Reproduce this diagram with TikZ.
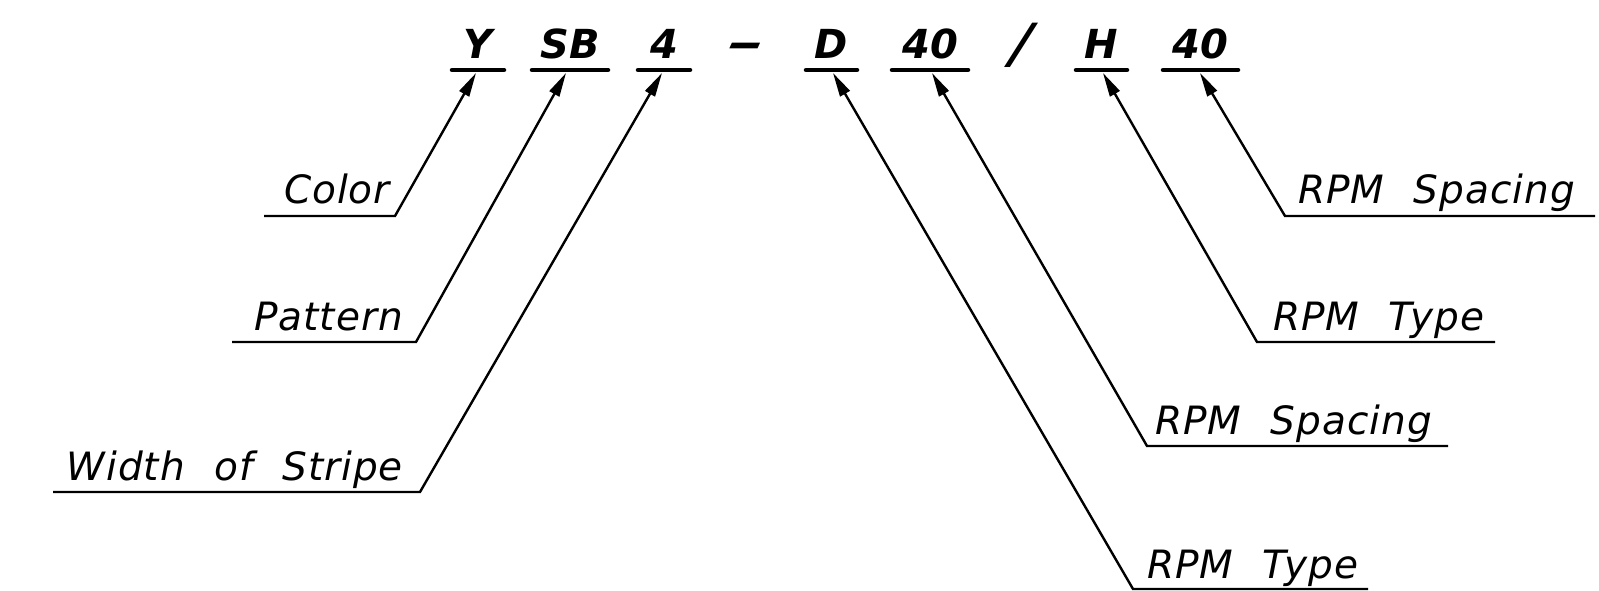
\documentclass[tikz,border=0pt]{standalone}
\usepackage{fontspec}
\setmainfont{DejaVu Sans}
\newfontfamily\labfont[WordSpace=2.2,LetterSpace=2.5]{DejaVu Sans Oblique}
\newfontfamily\codefont{DejaVu Sans Bold Oblique}
\newfontfamily\slfont{DejaVu Sans Oblique}
\usetikzlibrary{arrows.meta}
\begin{document}
\begin{tikzpicture}[x=1pt,y=-1pt,
  codetxt/.style={inner sep=0pt,anchor=base,font=\codefont\fontsize{40}{40}\selectfont},
  labtxt/.style={inner sep=0pt,font=\labfont\fontsize{39}{39}\selectfont},
  bar/.style={line width=4.5pt,line cap=round},
  leader/.style={line width=2.4pt,-{Triangle[length=24pt,width=11pt]}}]
\useasboundingbox (0,0) rectangle (1599,591);
% code
\node[codetxt] (cY) at (478,59) {Y};
\node[codetxt] (cSB) at (570,59) {SB};
\node[codetxt] (c4) at (664,59) {4};
\node[codetxt] (cdash) at (747,58) {\scalebox{2.3}[1]{-}};
\node[codetxt] (cD) at (831,59) {D};
\node[codetxt] (c40a) at (930,59) {40};
\node[codetxt,font=\slfont\fontsize{40}{40}\selectfont] (cslash) at (1021,63) {\scalebox{1.7}[1.35]{/}};
\node[codetxt] (cH) at (1101,59) {H};
\node[codetxt] (c40b) at (1200,59) {40};
% bars
\draw[bar] (452,70) -- (504,70);
\draw[bar] (532,70) -- (608,70);
\draw[bar] (638,70) -- (690,70);
\draw[bar] (806,70) -- (857,70);
\draw[bar] (892,70) -- (968,70);
\draw[bar] (1076,70) -- (1127,70);
\draw[bar] (1163,70) -- (1238,70);
% tips
\coordinate (tY) at (476,73);
\coordinate (tSB) at (566,73);
\coordinate (t4) at (662,73);
\coordinate (tD) at (833,73);
\coordinate (t40a) at (932,73);
\coordinate (tH) at (1103,73);
\coordinate (t40b) at (1200,73);
% left labels
\coordinate (kC) at (395,216); \coordinate (sC) at (264,216);
\coordinate (kP) at (416,342); \coordinate (sP) at (232,342);
\coordinate (kW) at (420,492); \coordinate (sW) at (53,492);
\node[labtxt,anchor=base east] (lC) at (390,204) {Color};
\node[labtxt,anchor=base east] (lP) at (403,330) {Pattern};
\node[labtxt,anchor=base east] (lW) at (403,480) {Width of Stripe};
\draw[leader] (sC) -- (kC) -- (tY);
\draw[leader] (sP) -- (kP) -- (tSB);
\draw[leader] (sW) -- (kW) -- (t4);
% right labels
\coordinate (kT1) at (1133,589); \coordinate (eT1) at (1368,589);
\coordinate (kS1) at (1147,446); \coordinate (eS1) at (1448,446);
\coordinate (kT2) at (1257,342); \coordinate (eT2) at (1495,342);
\coordinate (kS2) at (1285,216); \coordinate (eS2) at (1595,216);
\node[labtxt,anchor=base west] (lT1) at (1147,578) {RPM Type};
\node[labtxt,anchor=base west] (lS1) at (1155,434) {RPM Spacing};
\node[labtxt,anchor=base west] (lT2) at (1273,330) {RPM Type};
\node[labtxt,anchor=base west] (lS2) at (1298,204) {RPM Spacing};
\draw[leader] (eT1) -- (kT1) -- (tD);
\draw[leader] (eS1) -- (kS1) -- (t40a);
\draw[leader] (eT2) -- (kT2) -- (tH);
\draw[leader] (eS2) -- (kS2) -- (t40b);
\end{tikzpicture}
\end{document}
